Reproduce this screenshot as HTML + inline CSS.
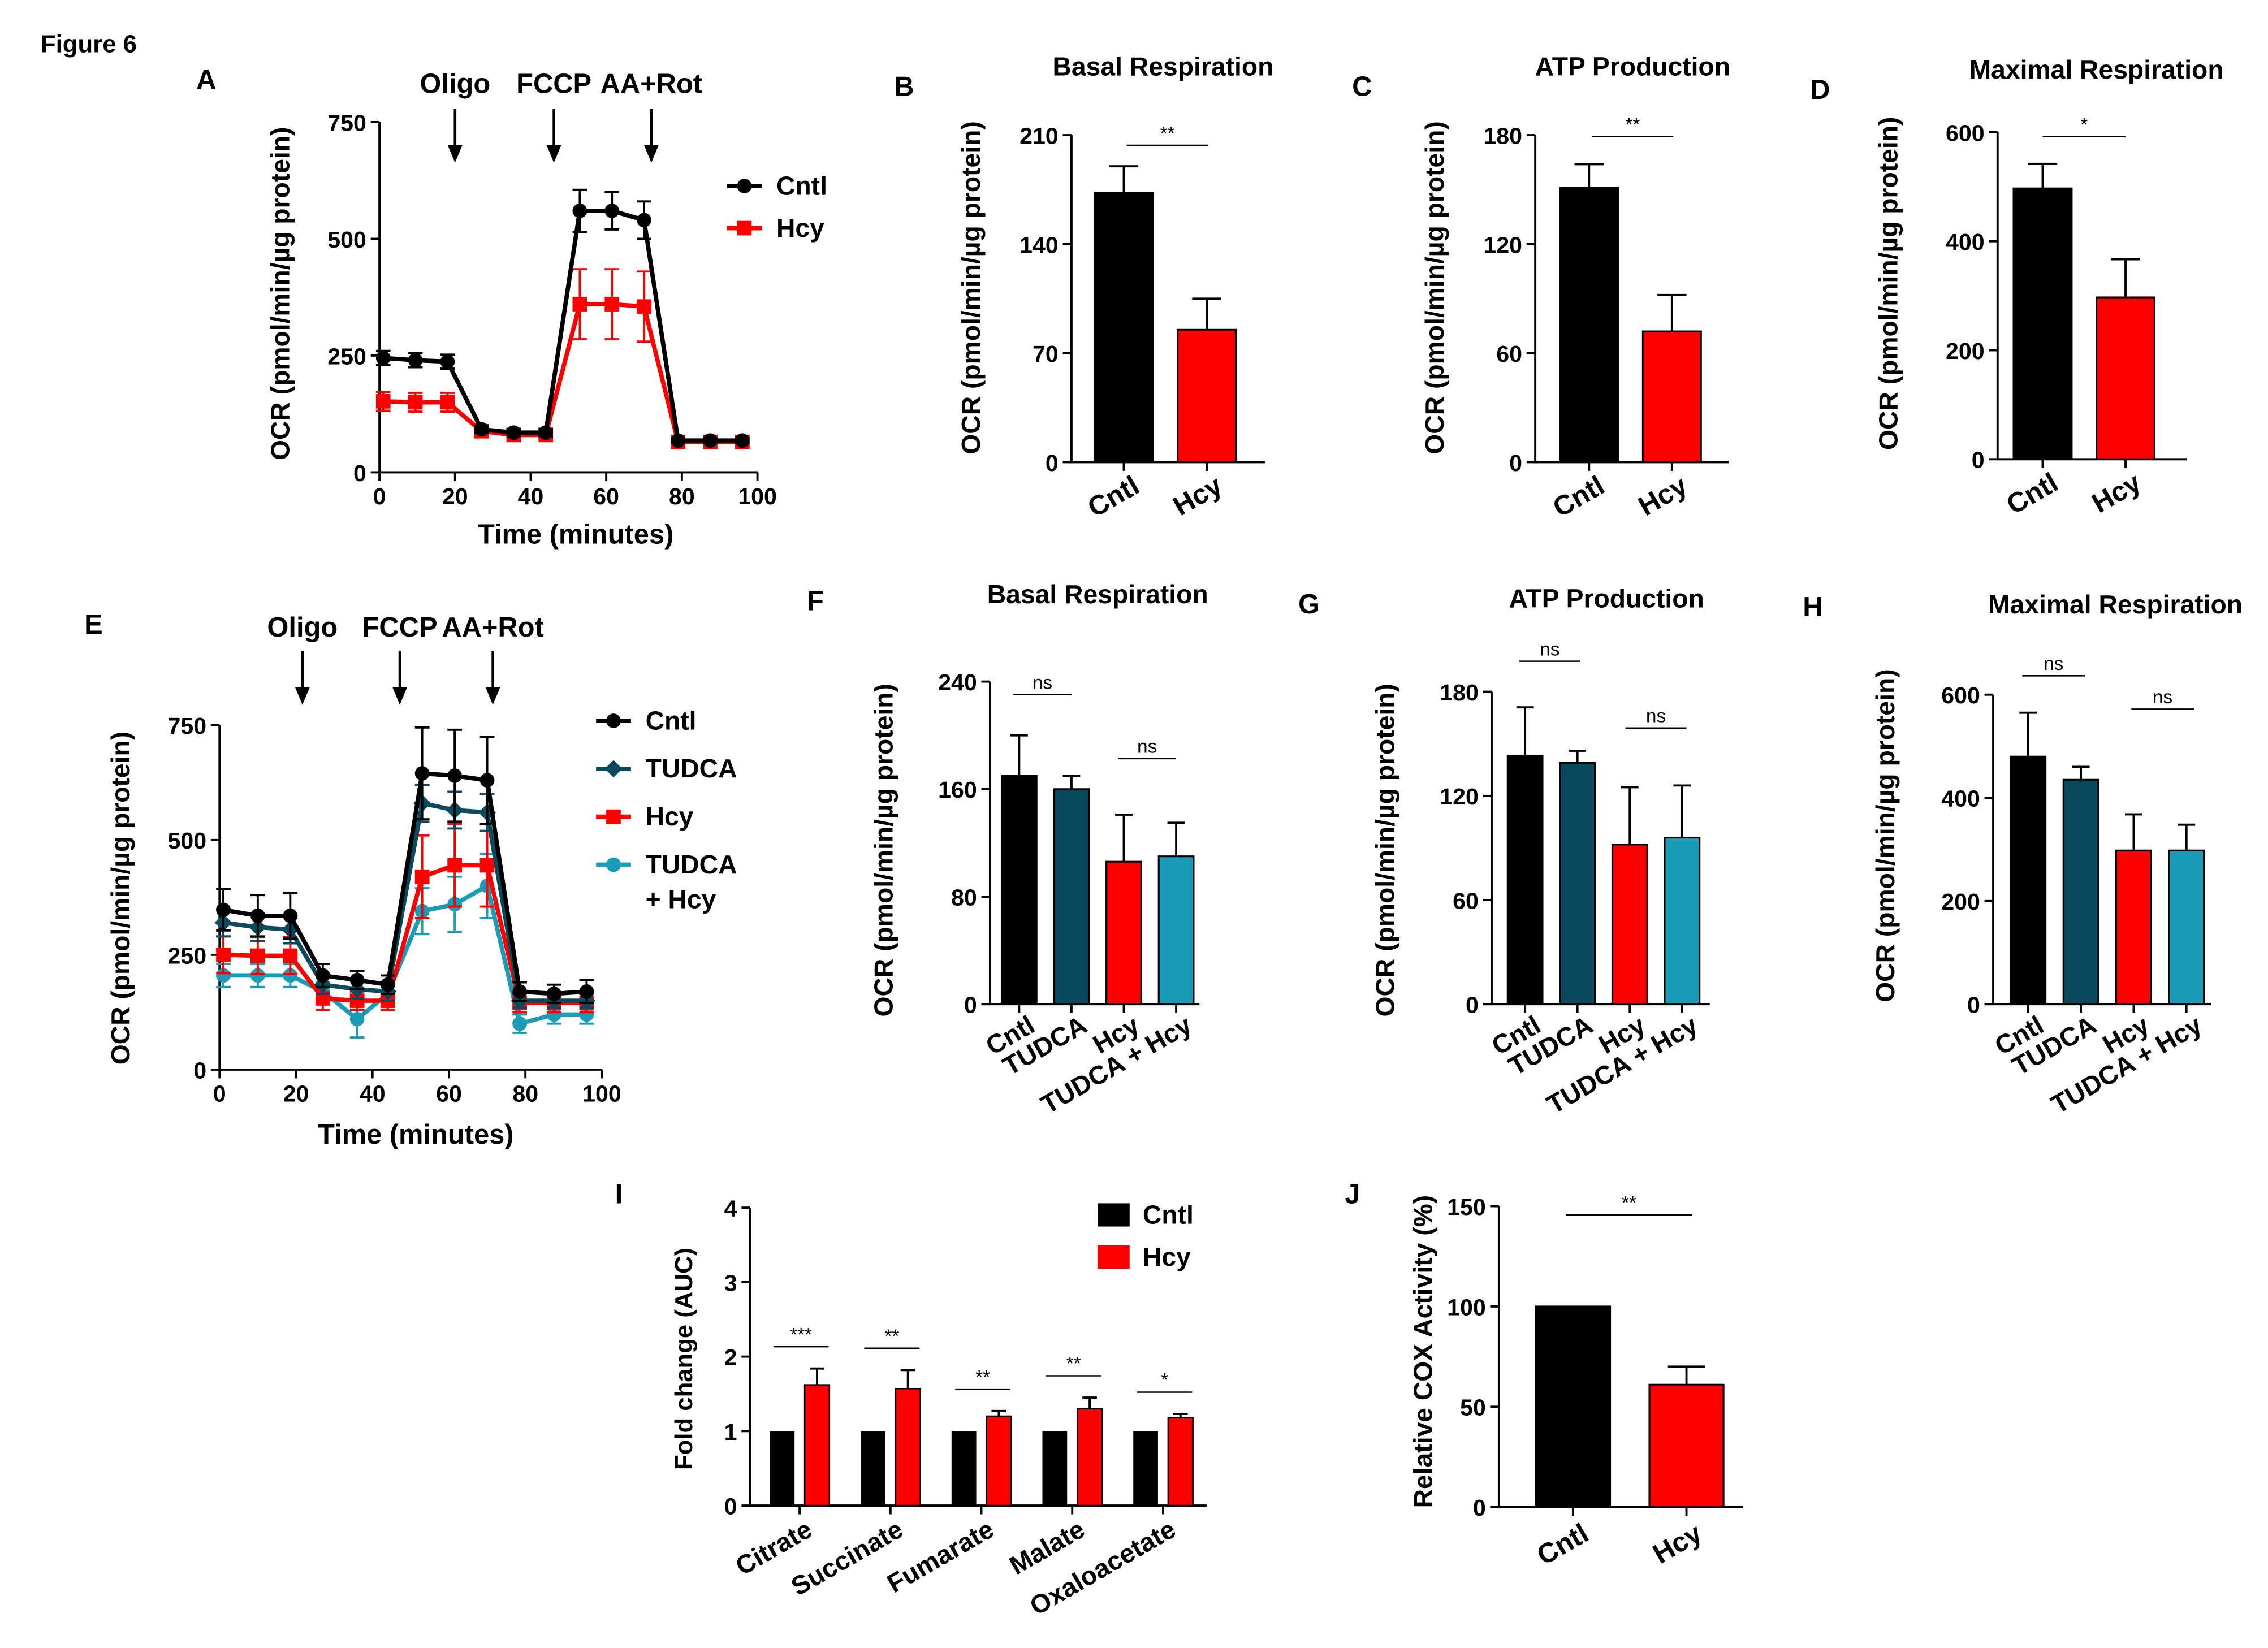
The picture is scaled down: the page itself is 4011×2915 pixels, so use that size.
<!DOCTYPE html>
<html><head><meta charset="utf-8">
<style>
html,body{margin:0;padding:0;background:#fff;}
svg{display:block;font-family:"Liberation Sans",Arial,sans-serif;font-weight:bold;}
</style></head>
<body>
<svg id="fig" width="4011" height="2915" viewBox="0 0 1560 1134" preserveAspectRatio="none" xmlns="http://www.w3.org/2000/svg">
<rect width="1560" height="1134" fill="#fff"/>
</svg>
<script>
// ---------- DATA ----------
const timesA = [1, 9.5, 18, 27, 35.5, 44, 53, 61.5, 70, 79, 87.5, 96];
const cntlA = [245, 240, 237, 92, 85, 85, 560, 560, 540, 68, 68, 68];
const cntlAErr = [15, 15, 15, 8, 8, 8, 45, 40, 40, 5, 5, 5];
const hcyA = [152, 150, 150, 88, 80, 80, 360, 360, 355, 65, 65, 65];
const hcyAErr = [20, 20, 20, 8, 8, 8, 75, 75, 75, 5, 5, 5];
const ticksA = [0, 250, 500, 750];
const xticksTime = [0, 20, 40, 60, 80, 100];

const timesE = [1, 10, 18.5, 27, 36, 44, 53, 61.5, 70, 78.5, 87.5, 96];
const cntlE = [348, 335, 335, 205, 195, 185, 645, 640, 630, 170, 165, 170];
const cntlEErr = [45, 45, 50, 25, 20, 20, 100, 100, 95, 20, 20, 25];
const tudcaE = [320, 310, 305, 185, 175, 170, 580, 565, 560, 150, 150, 150];
const tudcaEErr = [30, 30, 30, 20, 20, 20, 40, 40, 40, 15, 15, 15];
const hcyE = [250, 248, 248, 155, 150, 150, 420, 445, 445, 145, 145, 145];
const hcyEErr = [40, 40, 40, 25, 20, 20, 90, 90, 90, 20, 20, 20];
const tudcaHcyE = [205, 205, 205, 170, 110, 165, 345, 360, 400, 100, 120, 120];
const tudcaHcyEErr = [25, 25, 25, 20, 40, 20, 50, 60, 70, 20, 20, 20];
const ticksE = [0, 250, 500, 750];

const cats2 = ["Cntl", "Hcy"];
const cats4 = ["Cntl", "TUDCA", "Hcy", "TUDCA + Hcy"];
const basalB = [173, 85]; const basalBErr = [17, 20]; const ticksB = [0, 70, 140, 210];
const atpC = [151, 72]; const atpCErr = [13, 20]; const ticksC = [0, 60, 120, 180];
const maxD = [497, 297]; const maxDErr = [45, 70]; const ticksD = [0, 200, 400, 600];
const basalF = [170, 160, 106, 110]; const basalFErr = [30, 10, 35, 25]; const ticksF = [0, 80, 160, 240];
const atpG = [143, 139, 92, 96]; const atpGErr = [28, 7, 33, 30]; const ticksG = [0, 60, 120, 180];
const maxH = [480, 435, 298, 298]; const maxHErr = [85, 25, 70, 50]; const ticksH = [0, 200, 400, 600];

const metabolites = ["Citrate", "Succinate", "Fumarate", "Malate", "Oxaloacetate"];
const cntlI = [1, 1, 1, 1, 1];
const hcyI = [1.62, 1.57, 1.2, 1.3, 1.18];
const hcyIErr = [0.22, 0.25, 0.07, 0.15, 0.05];
const starsI = ["***", "**", "**", "**", "*"];
const ticksI = [0, 1, 2, 3, 4];
const coxJ = [100, 61]; const coxJErr = [0, 9]; const ticksJ = [0, 50, 100, 150];

// ---------- HELPERS ----------
const NS = "http://www.w3.org/2000/svg";
const svg = document.getElementById("fig");
function mk(tag, attrs, name, parent) {
  const e = document.createElementNS(NS, tag);
  for (const k in attrs) e.setAttribute(k, attrs[k]);
  
  
  (parent || svg).appendChild(e);
  return e;
}
function txt(x, y, s, size, name, extra) {
  const a = Object.assign({x: x, y: y, "font-size": size, "text-anchor": "middle", fill: "#000"}, extra || {});
  const t = mk("text", a, name);
  t.textContent = s;
  return t;
}
function line(x1, y1, x2, y2, name, w, col) {
  return mk("line", {x1: x1, y1: y1, x2: x2, y2: y2, stroke: col || "#000", "stroke-width": w || 1.5}, name);
}
function yAxis(x, y0, yTop, max, ticks, name) {
  const sy = v => y0 - (y0 - yTop) * v / max;
  line(x, y0 + 0.75, x, yTop, name + "-y-axis", 1.5);
  ticks.forEach(t => {
    line(x - 6, sy(t), x, sy(t), name + "-y-tick", 1.5);
    txt(x - 9, sy(t) + 6, String(t), 16, name + "-y-tick-label", {"text-anchor": "end"});
  });
  return sy;
}
function yLabel(x, yc, s, name, size) {
  txt(x, yc, s, size || 18, name, {transform: "rotate(-90 " + x + " " + yc + ")"});
}
function rotLabel(x, y, s, name, size) {
  txt(x, y, s, size || 18, name, {"text-anchor": "end", transform: "rotate(-30 " + x + " " + y + ")"});
}
function sig(x1, x2, y, s, name) {
  line(x1, y, x2, y, name + "-line", 1);
  txt((x1 + x2) / 2, y - 4, s, 13, name + "-stars", {"font-weight": "normal"});
}
function barPanel(p) {
  const sy = yAxis(p.ax, p.y0, p.yTop, p.max, p.ticks, p.name);
  line(p.ax, p.y0, p.ax + p.axLen, p.y0, p.name + "-x-axis", 1.5);
  p.values.forEach((v, i) => {
    const c = p.x0 + i * p.step;
    const top = sy(v);
    const err = p.errs[i];
    if (err > 0) {
      line(c, top, c, sy(v + err), p.name + "-error-bar", 1.5);
      line(c - p.w / 4, sy(v + err), c + p.w / 4, sy(v + err), p.name + "-error-cap", 1.5);
    }
    mk("rect", {x: c - p.w / 2, y: top, width: p.w, height: p.y0 - top, fill: p.colors[i], stroke: "#000", "stroke-width": 1.2}, p.name + "-bar-" + p.cats[i].toLowerCase().replace(/[^a-z]+/g, "-"));
    line(c, p.y0, c, p.y0 + 6, p.name + "-x-tick", 1.5);
    rotLabel(c + p.lblDx, p.y0 + p.lblDy, p.cats[i], p.name + "-x-label", p.lblSize);
  });
  if (p.title) txt(p.title[0], p.title[1], p.title[2], 18, p.name + "-title");
  yLabel(p.ylx, p.ylc, p.ylabel, p.name + "-y-axis-title");
  return sy;
}
function marker(shape, x, y, col, name) {
  if (shape === "circle") return mk("circle", {cx: x, cy: y, r: 5, fill: col}, name);
  if (shape === "square") return mk("rect", {x: x - 5, y: y - 5, width: 10, height: 10, fill: col}, name);
  return mk("polygon", {points: (x) + "," + (y - 6) + " " + (x + 6) + "," + y + " " + x + "," + (y + 6) + " " + (x - 6) + "," + y, fill: col}, name);
}
function series(times, vals, errs, sx, sy, col, shape, name) {
  let d = "";
  times.forEach((t, i) => {
    const x = sx(t), y = sy(vals[i]);
    line(x, sy(vals[i] - errs[i]), x, sy(vals[i] + errs[i]), name + "-error-bar", 1.5, col);
    line(x - 5, sy(vals[i] + errs[i]), x + 5, sy(vals[i] + errs[i]), name + "-error-cap", 1.5, col);
    line(x - 5, sy(vals[i] - errs[i]), x + 5, sy(vals[i] - errs[i]), name + "-error-cap", 1.5, col);
    d += (i ? "L" : "M") + x + " " + y;
  });
  mk("path", {d: d, fill: "none", stroke: col, "stroke-width": 3}, name + "-line");
  times.forEach((t, i) => marker(shape, sx(t), sy(vals[i]), col, name + "-point"));
}
function timeAxis(x0, x1, y0, name) {
  const sx = t => x0 + (x1 - x0) * t / 100;
  line(x0 - 0.75, y0, x1, y0, name + "-x-axis", 1.5);
  xticksTime.forEach(t => {
    line(sx(t), y0, sx(t), y0 + 6, name + "-x-tick", 1.5);
    txt(sx(t), y0 + 22, String(t), 16, name + "-x-tick-label");
  });
  return sx;
}
function arrows(list, yText, yA0, yA1, name) {
  list.forEach(a => {
    txt(a[0], yText, a[1], 19, name + "-treatment-label");
    line(a[0], yA0, a[0], yA1 - 8, name + "-arrow-shaft", 1.8);
    mk("polygon", {points: (a[0] - 5) + "," + (yA1 - 12) + " " + (a[0] + 5) + "," + (yA1 - 12) + " " + a[0] + "," + yA1, fill: "#000"}, name + "-arrow-head");
  });
}
function legendLine(x, y, col, shape, label, name) {
  line(x, y, x + 24, y, name + "-swatch", 3, col);
  marker(shape, x + 12, y, col, name + "-marker");
  txt(x + 34, y + 6, label, 18, name + "-label", {"text-anchor": "start"});
}

const RED = "#ff0000", TEAL = "#0b4a5c", CYAN = "#1a9cb8";

// ---------- PANEL LETTERS ----------
txt(28, 36, "Figure 6", 17, "figure-title", {"text-anchor": "start"});
[["A",135,61],["B",615,66],["C",930,66],["D",1245,68],["E",58,436],["F",555,420],["G",893,422],["H",1240,424],["I",423,828],["J",925,828]]
  .forEach(l => txt(l[1], l[2], l[0], 19, "panel-letter-" + l[0].toLowerCase(), {"text-anchor": "start"}));

// ---------- PANEL A ----------
(function(){
  const sy = yAxis(261, 325, 84, 750, ticksA, "panel-a");
  const sx = timeAxis(261, 521, 325, "panel-a");
  series(timesA, hcyA, hcyAErr, sx, sy, RED, "square", "panel-a-hcy");
  series(timesA, cntlA, cntlAErr, sx, sy, "#000", "circle", "panel-a-cntl");
  arrows([[313,"Oligo"],[381,"FCCP"],[448,"AA+Rot"]], 64, 75, 112, "panel-a");
  legendLine(500, 128, "#000", "circle", "Cntl", "panel-a-legend-cntl");
  legendLine(500, 157, RED, "square", "Hcy", "panel-a-legend-hcy");
  yLabel(199, 202, "OCR (pmol/min/µg protein)", "panel-a-y-axis-title");
  txt(396, 374, "Time (minutes)", 19, "panel-a-x-axis-title");
})();

// ---------- PANELS B, C, D ----------
barPanel({name:"panel-b", ax:737, y0:318, yTop:93, max:210, ticks:ticksB, axLen:133, x0:773, step:57, w:40,
  values:basalB, errs:basalBErr, colors:["#000",RED], cats:cats2, lblDx:12, lblDy:20, lblSize:19,
  title:[800,52,"Basal Respiration"], ylx:674, ylc:198, ylabel:"OCR (pmol/min/µg protein)"});
sig(775, 831, 100, "**", "panel-b-sig");
barPanel({name:"panel-c", ax:1056, y0:318, yTop:93, max:180, ticks:ticksC, axLen:133, x0:1093, step:57, w:40,
  values:atpC, errs:atpCErr, colors:["#000",RED], cats:cats2, lblDx:12, lblDy:20, lblSize:19,
  title:[1123,52,"ATP Production"], ylx:993, ylc:198, ylabel:"OCR (pmol/min/µg protein)"});
sig(1095, 1151, 94, "**", "panel-c-sig");
barPanel({name:"panel-d", ax:1374, y0:316, yTop:91, max:600, ticks:ticksD, axLen:130, x0:1405, step:57, w:40,
  values:maxD, errs:maxDErr, colors:["#000",RED], cats:cats2, lblDx:12, lblDy:20, lblSize:19,
  title:[1442,54,"Maximal Respiration"], ylx:1305, ylc:195, ylabel:"OCR (pmol/min/µg protein)"});
sig(1405, 1462, 94, "*", "panel-d-sig");

// ---------- PANEL E ----------
(function(){
  const sy = yAxis(151, 736, 499, 750, ticksE, "panel-e");
  const sx = timeAxis(151, 414, 736, "panel-e");
  series(timesE, tudcaHcyE, tudcaHcyEErr, sx, sy, CYAN, "circle", "panel-e-tudca-hcy");
  series(timesE, hcyE, hcyEErr, sx, sy, RED, "square", "panel-e-hcy");
  series(timesE, tudcaE, tudcaEErr, sx, sy, TEAL, "diamond", "panel-e-tudca");
  series(timesE, cntlE, cntlEErr, sx, sy, "#000", "circle", "panel-e-cntl");
  arrows([[208,"Oligo"],[275,"FCCP"],[339,"AA+Rot"]], 438, 448, 485, "panel-e");
  legendLine(410, 496, "#000", "circle", "Cntl", "panel-e-legend-cntl");
  legendLine(410, 529, TEAL, "diamond", "TUDCA", "panel-e-legend-tudca");
  legendLine(410, 562, RED, "square", "Hcy", "panel-e-legend-hcy");
  legendLine(410, 595, CYAN, "circle", "TUDCA", "panel-e-legend-tudca-hcy");
  txt(444, 625, "+ Hcy", 18, "panel-e-legend-tudca-hcy-label-2", {"text-anchor": "start"});
  yLabel(89, 618, "OCR (pmol/min/µg protein)", "panel-e-y-axis-title");
  txt(286, 787, "Time (minutes)", 19, "panel-e-x-axis-title");
})();

// ---------- PANELS F, G, H ----------
const col4 = ["#000", TEAL, RED, CYAN];
barPanel({name:"panel-f", ax:681, y0:691, yTop:469, max:240, ticks:ticksF, axLen:144, x0:701, step:36, w:24,
  values:basalF, errs:basalFErr, colors:col4, cats:cats4, lblDx:12, lblDy:18, lblSize:18,
  title:[755,415,"Basal Respiration"], ylx:614, ylc:585, ylabel:"OCR (pmol/min/µg protein)"});
sig(697, 737, 478, "ns", "panel-f-sig-1");
sig(769, 809, 522, "ns", "panel-f-sig-2");
barPanel({name:"panel-g", ax:1026, y0:691, yTop:476, max:180, ticks:ticksG, axLen:150, x0:1049, step:36, w:24,
  values:atpG, errs:atpGErr, colors:col4, cats:cats4, lblDx:12, lblDy:18, lblSize:18,
  title:[1105,418,"ATP Production"], ylx:959, ylc:585, ylabel:"OCR (pmol/min/µg protein)"});
sig(1045, 1087, 455, "ns", "panel-g-sig-1");
sig(1118, 1160, 501, "ns", "panel-g-sig-2");
barPanel({name:"panel-h", ax:1371, y0:691, yTop:478, max:600, ticks:ticksH, axLen:150, x0:1395, step:36.3, w:24,
  values:maxH, errs:maxHErr, colors:col4, cats:cats4, lblDx:12, lblDy:18, lblSize:18,
  title:[1455,422,"Maximal Respiration"], ylx:1303, ylc:575, ylabel:"OCR (pmol/min/µg protein)"});
sig(1391, 1434, 465, "ns", "panel-h-sig-1");
sig(1466, 1509, 488, "ns", "panel-h-sig-2");

// ---------- PANEL I ----------
(function(){
  const sy = yAxis(516, 1036, 831, 4, ticksI, "panel-i");
  line(516, 1036, 830, 1036, "panel-i-x-axis", 1.5);
  metabolites.forEach((m, i) => {
    const cc = 538 + i * 62.5, hc = cc + 24;
    mk("rect", {x: cc - 8.5, y: sy(cntlI[i]), width: 17, height: 1036 - sy(cntlI[i]), fill: "#000"}, "panel-i-bar-cntl");
    const top = sy(hcyI[i]);
    line(hc, top, hc, sy(hcyI[i] + hcyIErr[i]), "panel-i-error-bar", 1.5);
    line(hc - 5, sy(hcyI[i] + hcyIErr[i]), hc + 5, sy(hcyI[i] + hcyIErr[i]), "panel-i-error-cap", 1.5);
    mk("rect", {x: hc - 8.5, y: top, width: 17, height: 1036 - top, fill: RED, stroke: "#000", "stroke-width": 1}, "panel-i-bar-hcy");
    line((cc + hc) / 2, 1036, (cc + hc) / 2, 1042, "panel-i-x-tick", 1.5);
    rotLabel((cc + hc) / 2 + 10, 1056, m, "panel-i-x-label", 18);
    const sigY = sy(hcyI[i] + hcyIErr[i]) - 15;
    sig(cc - 6, hc + 8, sigY, starsI[i], "panel-i-sig");
  });
  mk("rect", {x: 755, y: 828, width: 22, height: 16, fill: "#000"}, "panel-i-legend-cntl-swatch");
  txt(786, 842, "Cntl", 18, "panel-i-legend-cntl-label", {"text-anchor": "start"});
  mk("rect", {x: 755, y: 857, width: 22, height: 16, fill: RED}, "panel-i-legend-hcy-swatch");
  txt(786, 871, "Hcy", 18, "panel-i-legend-hcy-label", {"text-anchor": "start"});
  yLabel(476, 935, "Fold change (AUC)", "panel-i-y-axis-title", 17);
})();

// ---------- PANEL J ----------
barPanel({name:"panel-j", ax:1031, y0:1037, yTop:830, max:150, ticks:ticksJ, axLen:168, x0:1082, step:78, w:51,
  values:coxJ, errs:coxJErr, colors:["#000",RED], cats:cats2, lblDx:12, lblDy:22, lblSize:19,
  title:null, ylx:985, ylc:930, ylabel:"Relative COX Activity (%)"});
sig(1077, 1164, 836, "**", "panel-j-sig");
</script>
</body></html>
